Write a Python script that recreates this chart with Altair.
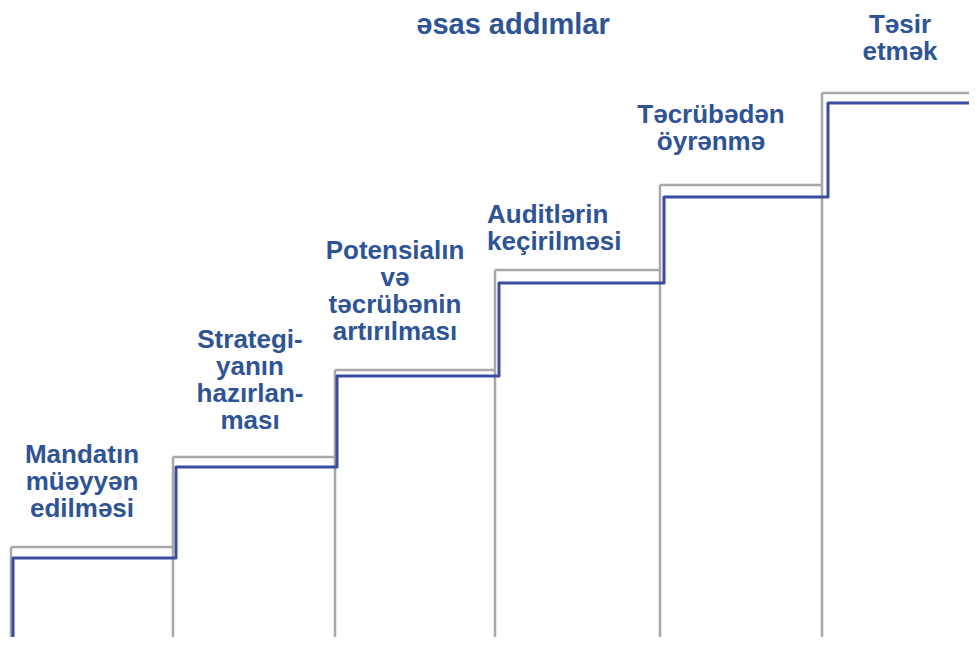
import altair as alt
import pandas as pd

# Step geometry (x = step edges, heights = level of each step above the baseline)
step_edges_x = [11, 173, 335, 495, 660, 822, 977]
outline_heights = [98, 188, 275, 375, 460, 552]
stair_edges_x = [13, 176, 337, 499, 664, 828, 977]
stair_heights = [87, 178, 269, 362, 448, 542]

labels = [
    "Mandatın\nmüəyyən\nedilməsi",
    "Strategi-\nyanın\nhazırlan-\nması",
    "Potensialın\nvə\ntəcrübənin\nartırılması",
    "Auditlərin\nkeçirilməsi",
    "Təcrübədən\nöyrənmə",
    "Təsir\netmək",
]
label_x = [82, 250, 395, 487, 711, 900]
label_y = [182, 297, 386, 422, 522, 612]
label_align = ["center", "center", "center", "left", "center", "center"]
title_text = "əsas addımlar"

TEXT_COLOR = "#2F5496"
GRAY = "#A8A8A8"
BLUE = "#3B4C9F"

xs = alt.Scale(domain=[8, 969])
ys = alt.Scale(domain=[8, 637])

tops = pd.DataFrame({
    "x": step_edges_x[:-1],
    "x2": step_edges_x[1:],
    "y": outline_heights,
})
verts = pd.DataFrame({
    "x": step_edges_x[:-1],
    "y": outline_heights,
    "y2": [0] * len(outline_heights),
})

pts = []
order = 0
pts.append({"x": stair_edges_x[0], "y": 0, "o": order}); order += 1
for i, h in enumerate(stair_heights):
    pts.append({"x": stair_edges_x[i], "y": h, "o": order}); order += 1
    pts.append({"x": stair_edges_x[i + 1], "y": h, "o": order}); order += 1
stair = pd.DataFrame(pts)

lab = pd.DataFrame({"t": labels, "x": label_x, "y": label_y, "a": label_align})

gray_tops = alt.Chart(tops).mark_rule(color=GRAY, strokeWidth=2.5, clip=True).encode(
    x=alt.X("x:Q", scale=xs, axis=None),
    x2="x2:Q",
    y=alt.Y("y:Q", scale=ys, axis=None),
)
gray_verts = alt.Chart(verts).mark_rule(color=GRAY, strokeWidth=2.5, clip=True).encode(
    x=alt.X("x:Q", scale=xs, axis=None),
    y=alt.Y("y:Q", scale=ys, axis=None),
    y2="y2:Q",
)
blue_line = alt.Chart(stair).mark_line(
    color=BLUE, strokeWidth=3, strokeJoin="round", clip=True
).encode(
    x=alt.X("x:Q", scale=xs, axis=None),
    y=alt.Y("y:Q", scale=ys, axis=None),
    order="o:Q",
)

def text_layer(align):
    return alt.Chart(lab).transform_filter(alt.datum.a == align).mark_text(
        align=align, baseline="alphabetic", font="Liberation Sans",
        fontWeight="bold", fontSize=26, lineHeight=27, color=TEXT_COLOR,
        lineBreak="\n",
    ).encode(
        x=alt.X("x:Q", scale=xs, axis=None),
        y=alt.Y("y:Q", scale=ys, axis=None),
        text="t:N",
    )

title = alt.Chart(pd.DataFrame({"t": [title_text], "x": [513], "y": [611]})).mark_text(
    align="center", baseline="alphabetic", font="Liberation Sans",
    fontWeight="bold", fontSize=29, color=TEXT_COLOR,
).encode(
    x=alt.X("x:Q", scale=xs, axis=None),
    y=alt.Y("y:Q", scale=ys, axis=None),
    text="t:N",
)

chart = alt.layer(
    gray_tops, gray_verts, blue_line, text_layer("center"), text_layer("left"), title
).properties(
    width=961, height=629,
    autosize=alt.AutoSizeParams(type="none"),
    padding=0,
).configure_view(stroke=None)

chart.save("out.html", embed_options={"renderer": "svg", "actions": False})
